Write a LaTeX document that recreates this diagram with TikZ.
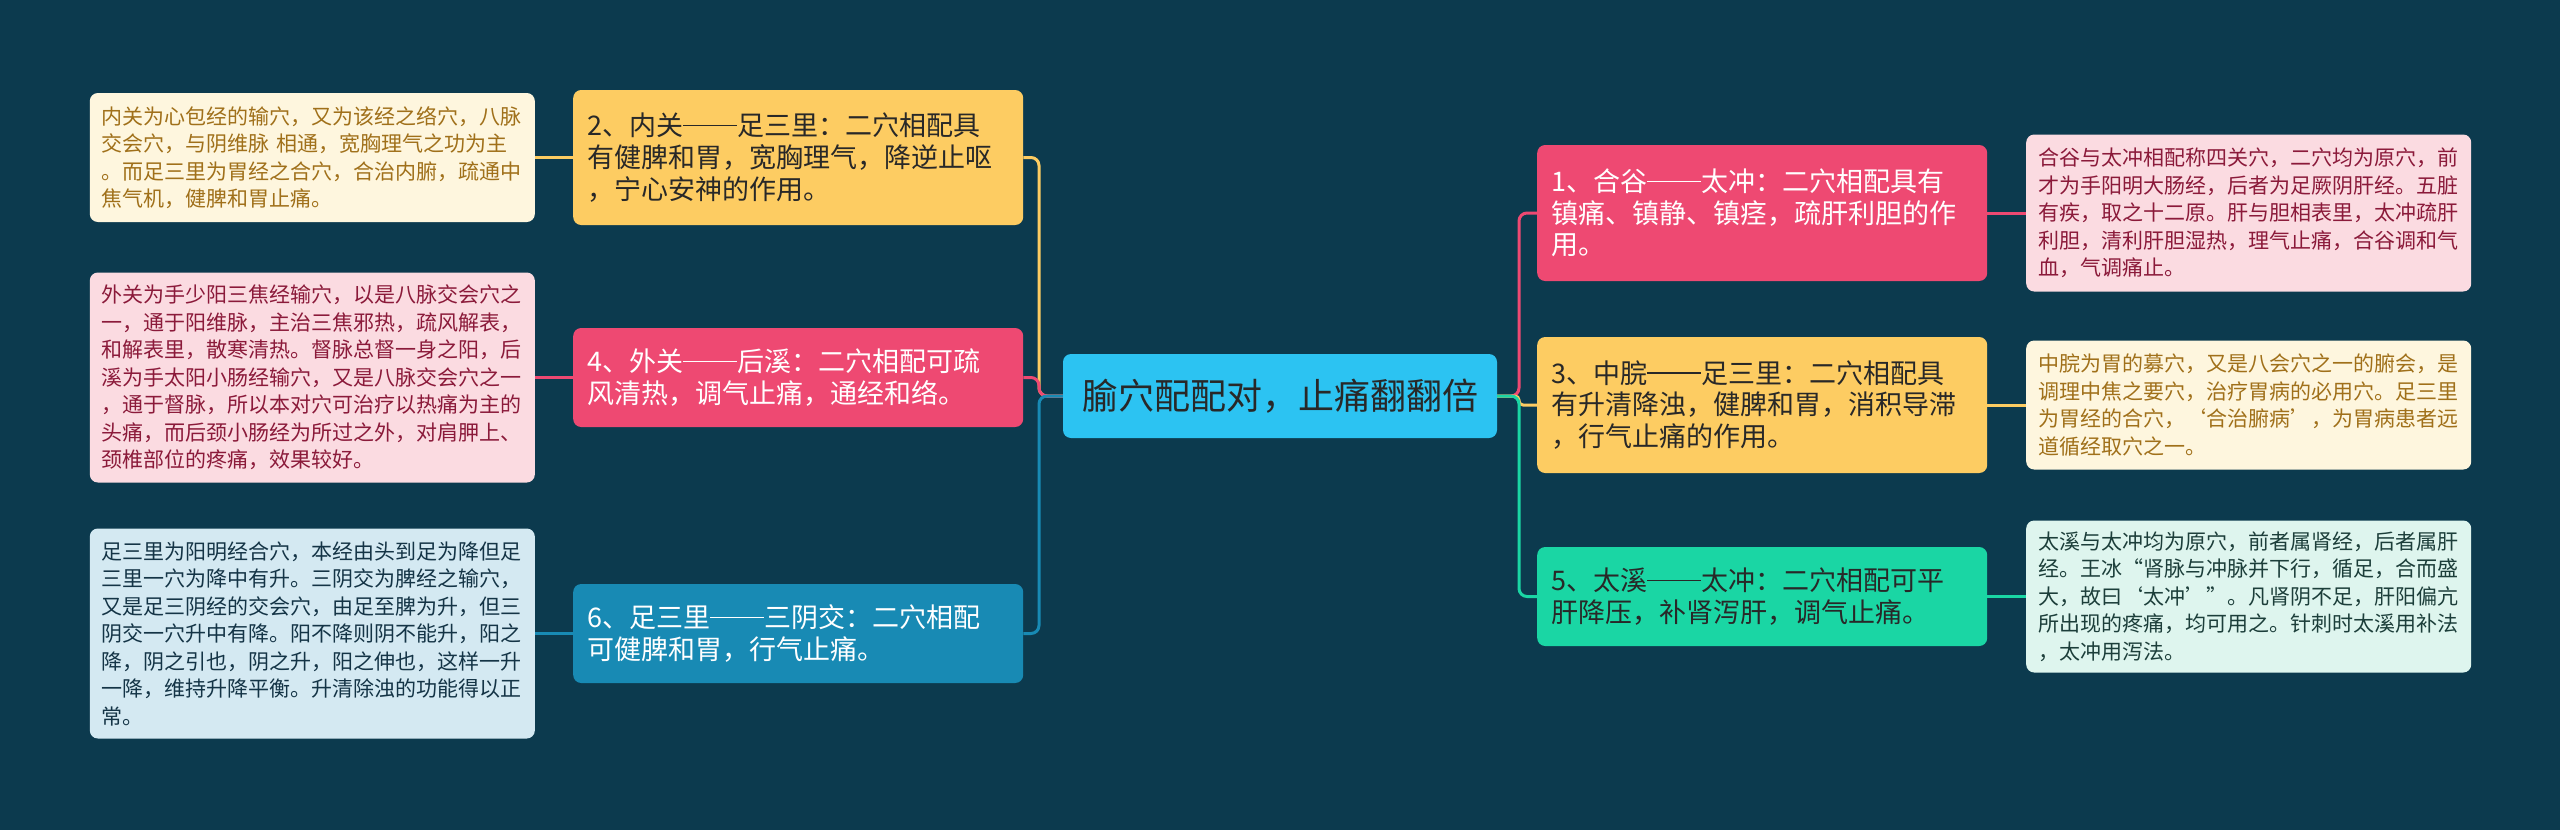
\documentclass[tikz,border=0pt]{standalone}
\usepackage{fontspec}
\setmainfont{Noto Sans CJK SC}
\newcommand{\fwdash}{\rule[0.35em]{2em}{0.055em}}
\definecolor{bgdark}{RGB}{12,58,78}
\definecolor{ctrblue}{RGB}{44,195,242}
\definecolor{topyellow}{RGB}{253,204,98}
\definecolor{topred}{RGB}{238,73,114}
\definecolor{topblue}{RGB}{24,138,180}
\definecolor{topgreen}{RGB}{26,214,164}
\definecolor{darktext}{RGB}{40,40,40}
\definecolor{notecream}{RGB}{254,246,222}
\definecolor{creamtext}{RGB}{160,112,26}
\definecolor{notepink}{RGB}{251,219,225}
\definecolor{pinktext}{RGB}{139,26,58}
\definecolor{notesky}{RGB}{212,233,242}
\definecolor{skytext}{RGB}{20,52,70}
\definecolor{notemint}{RGB}{222,245,238}
\definecolor{minttext}{RGB}{28,62,58}

\begin{document}
\begin{tikzpicture}[x=1pt, y=-1pt, line join=round,
    ctrbox/.style={fill=ctrblue, text=darktext, rounded corners=8pt, minimum width=434pt, minimum height=84pt, font=\fontsize{36}{40}\selectfont},
    topicbox/.style={rounded corners=8pt, text width=422pt, inner xsep=14pt, inner ysep=0pt, align=left, font=\fontsize{27}{31.7}\selectfont},
    notebox/.style={rounded corners=8pt, text width=421pt, inner xsep=12pt, inner ysep=0pt, align=left, font=\fontsize{21}{27.5}\selectfont},
    link/.style={line width=3pt, rounded corners=8pt}]
    \useasboundingbox[fill=bgdark] (0,0) rectangle (2560,830);

    \coordinate (L) at (1039,396); % left junction
    \coordinate (R) at (1519,396); % right junction

    \node[ctrbox] (O) at (1280,396) {腧穴配配对，止痛翻翻倍};

    % left side
    \node[topicbox, fill=topyellow, text=darktext, anchor=west, minimum height=135pt] (T2) at (573,157.5)
      {2、内关\fwdash 足三里：二穴相配具\\有健脾和胃，宽胸理气，降逆止呕\\，宁心安神的作用。};
    \node[topicbox, fill=topred, text=white, anchor=west, minimum height=99pt] (T4) at (573,377.5)
      {4、外关\fwdash 后溪：二穴相配可疏\\风清热，调气止痛，通经和络。};
    \node[topicbox, fill=topblue, text=white, anchor=west, minimum height=99pt] (T6) at (573,633.5)
      {6、足三里\fwdash 三阴交：二穴相配\\可健脾和胃，行气止痛。};

    \node[notebox, fill=notecream, text=creamtext, anchor=east, minimum height=129pt] (N2) at (535,157.5)
      {内关为心包经的输穴，又为该经之络穴，八脉\\交会穴，与阴维脉 相通，宽胸理气之功为主\\。而足三里为胃经之合穴，合治内腑，疏通中\\焦气机，健脾和胃止痛。};
    \node[notebox, fill=notepink, text=pinktext, anchor=east, minimum height=210pt] (N4) at (535,377.5)
      {外关为手少阳三焦经输穴，以是八脉交会穴之\\一，通于阳维脉，主治三焦邪热，疏风解表，\\和解表里，散寒清热。督脉总督一身之阳，后\\溪为手太阳小肠经输穴，又是八脉交会穴之一\\，通于督脉，所以本对穴可治疗以热痛为主的\\头痛，而后颈小肠经为所过之外，对肩胛上、\\颈椎部位的疼痛，效果较好。};
    \node[notebox, fill=notesky, text=skytext, anchor=east, minimum height=210pt] (N6) at (535,633.5)
      {足三里为阳明经合穴，本经由头到足为降但足\\三里一穴为降中有升。三阴交为脾经之输穴，\\又是足三阴经的交会穴，由足至脾为升，但三\\阴交一穴升中有降。阳不降则阴不能升，阳之\\降，阴之引也，阴之升，阳之伸也，这样一升\\一降，维持升降平衡。升清除浊的功能得以正\\常。};

    % right side
    \node[topicbox, fill=topred, text=white, anchor=west, minimum height=136pt] (T1) at (1537,213)
      {1、合谷\fwdash 太冲：二穴相配具有\\镇痛、镇静、镇痉，疏肝利胆的作\\用。};
    \node[topicbox, fill=topyellow, text=darktext, anchor=west, minimum height=136pt] (T3) at (1537,405)
      {3、中脘\fwdash 足三里：二穴相配具\\有升清降浊，健脾和胃，消积导滞\\，行气止痛的作用。};
    \node[topicbox, fill=topgreen, text=darktext, anchor=west, minimum height=99pt] (T5) at (1537,596.5)
      {5、太溪\fwdash 太冲：二穴相配可平\\肝降压，补肾泻肝，调气止痛。};

    \node[notebox, fill=notepink, text=pinktext, anchor=west, minimum height=157pt] (N1) at (2026,213)
      {合谷与太冲相配称四关穴，二穴均为原穴，前\\才为手阳明大肠经，后者为足厥阴肝经。五脏\\有疾，取之十二原。肝与胆相表里，太冲疏肝\\利胆，清利肝胆湿热，理气止痛，合谷调和气\\血，气调痛止。};
    \node[notebox, fill=notecream, text=creamtext, anchor=west, minimum height=129pt] (N3) at (2026,405)
      {中脘为胃的募穴，又是八会穴之一的腑会，是\\调理中焦之要穴，治疗胃病的必用穴。足三里\\为胃经的合穴，‘合治腑病’，为胃病患者远\\道循经取穴之一。};
    \node[notebox, fill=notemint, text=minttext, anchor=west, minimum height=152pt] (N5) at (2026,596.5)
      {太溪与太冲均为原穴，前者属肾经，后者属肝\\经。王冰“肾脉与冲脉并下行，循足，合而盛\\大，故曰‘太冲’”。凡肾阴不足，肝阳偏亢\\所出现的疼痛，均可用之。针刺时太溪用补法\\，太冲用泻法。};

    % branches
    \draw[link, topyellow] (O.west) -- (L) |- (T2.east);
    \draw[link, topred] (O.west) -- (L) |- (T4.east);
    \draw[link, topblue] (O.west) -- (L) |- (T6.east);
    \draw[link, topred] (O.east) -- (R) |- (T1.west);
    \draw[link, topyellow, rounded corners=4pt] (O.east) -- (R) |- (T3.west);
    \draw[link, topgreen] (O.east) -- (R) |- (T5.west);

    \draw[link, topyellow] (T2.west) -- (N2.east);
    \draw[link, topred] (T4.west) -- (N4.east);
    \draw[link, topblue] (T6.west) -- (N6.east);
    \draw[link, topred] (T1.east) -- (N1.west);
    \draw[link, topyellow] (T3.east) -- (N3.west);
    \draw[link, topgreen] (T5.east) -- (N5.west);
\end{tikzpicture}
\end{document}
